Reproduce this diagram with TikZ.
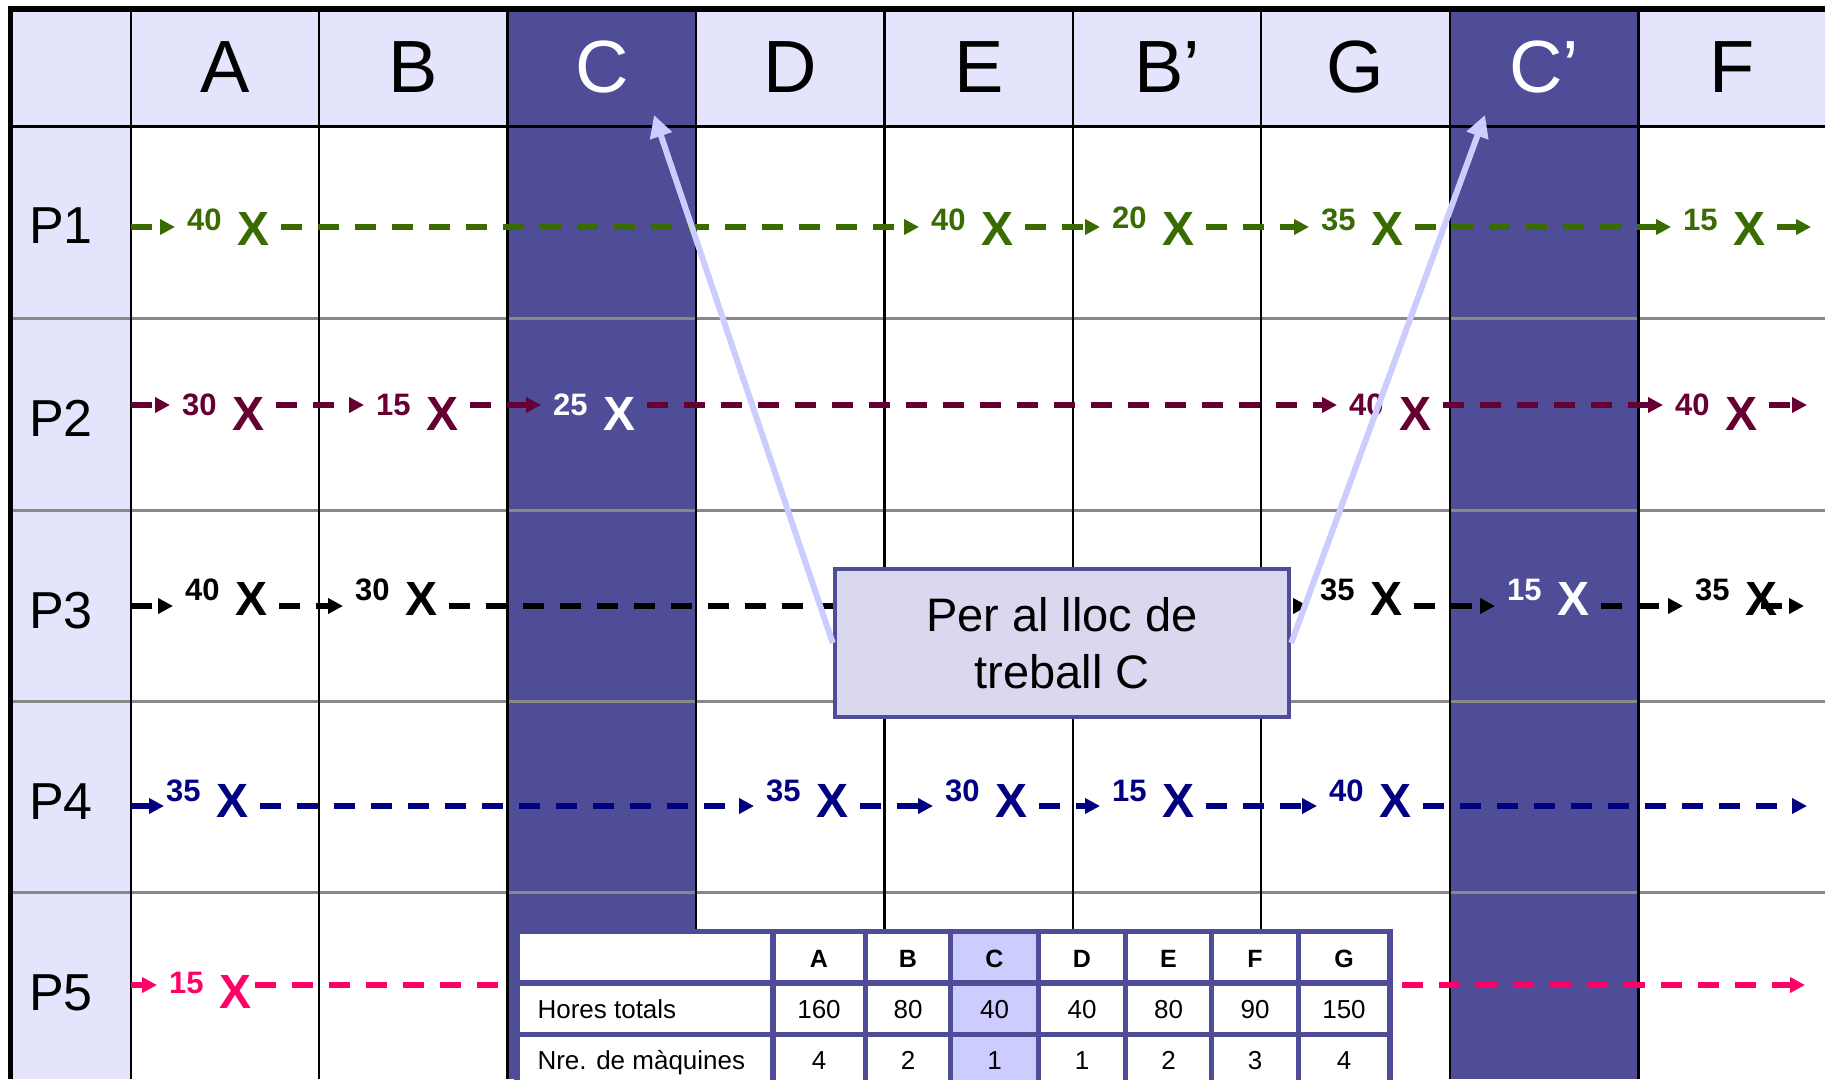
\documentclass[tikz,border=0pt]{standalone}
\usepackage{fontspec}
\setmainfont{Liberation Sans}
\usetikzlibrary{positioning, calc, arrows.meta}

\definecolor{headlav}{RGB}{228,228,252}
\definecolor{colpurple}{RGB}{80,77,152}
\definecolor{notefill}{RGB}{218,216,238}
\definecolor{calllav}{RGB}{204,204,255}
\definecolor{rowgray}{RGB}{136,136,136}
\definecolor{pgreen}{RGB}{58,107,0}
\definecolor{pmaroon}{RGB}{102,0,51}
\definecolor{pnavy}{RGB}{0,0,128}
\definecolor{ppink}{RGB}{255,0,102}

\begin{document}
\begin{tikzpicture}[x=1pt, y=-1pt,
    qty/.style={inner sep=0pt, anchor=base west, font=\fontsize{31}{31}\selectfont\bfseries},
    bigx/.style={inner sep=0pt, font=\fontsize{48}{48}\selectfont\bfseries},
    flow/.style={line width=5.5pt, dash pattern=on 21pt off 16pt, shorten <=12pt, shorten >=12pt, -{Triangle[length=15pt, width=15pt]}},
    rowline/.style={rowgray, line width=3pt},
    colline/.style={black, line width=2.5pt},
    colhead/.style={anchor=base, font=\fontsize{74}{74}\selectfont},
    rowhead/.style={anchor=base, font=\fontsize{52}{52}\selectfont},
    notebox/.style={draw=colpurple, line width=4.5pt, fill=notefill, minimum width=454pt, minimum height=148pt, align=center, font=\fontsize{47}{57}\selectfont},
    callarrow/.style={calllav, line width=6pt, -{Triangle[length=22pt, width=22pt]}},
    tabline/.style={colpurple, line width=5.5pt},
    tabhead/.style={anchor=base, font=\fontsize{25}{25}\selectfont\bfseries},
    tabtxt/.style={anchor=base, font=\fontsize{26}{26}\selectfont},
]
\useasboundingbox (0,0) rectangle (1825,1079);
\fill[white] (0,0) rectangle (1825,1079);

% background of the grid
\fill[headlav] (10.5,9) rectangle (1825,126.5);
\fill[headlav] (10.5,126.5) rectangle (131,1079);
\fill[colpurple] (507.5,9) rectangle (696,1079);
\fill[colpurple] (1450,9) rectangle (1638.5,1079);

\draw[rowline] (10.5,318) -- (1825,318);
\draw[rowline] (10.5,510) -- (1825,510);
\draw[rowline] (10.5,701) -- (1825,701);
\draw[rowline] (10.5,892) -- (1825,892);

\draw[colline] (131,9) -- (131,1079);
\draw[colline] (319,9) -- (319,1079);
\draw[colline] (507.5,9) -- (507.5,1079);
\draw[colline] (696,9) -- (696,1079);
\draw[colline] (884.5,9) -- (884.5,1079);
\draw[colline] (1073,9) -- (1073,1079);
\draw[colline] (1261,9) -- (1261,1079);
\draw[colline] (1450,9) -- (1450,1079);
\draw[colline] (1638.5,9) -- (1638.5,1079);

\draw[line width=3pt] (10.5,126.5) -- (1825,126.5);
\draw[line width=5.5pt] (10.5,1079) -- (10.5,9) -- (1825,9);

% column and row heads
\node[colhead] (cA) at (225,92) {A};
\node[colhead] (cB) at (413,92) {B};
\node[colhead, text=white] (cC) at (602,92) {C};
\node[colhead] (cD) at (790,92) {D};
\node[colhead] (cE) at (979,92) {E};
\node[colhead] (cBp) at (1167,92) {B’};
\node[colhead] (cG) at (1355.5,92) {G};
\node[colhead, text=white] (cCp) at (1544,92) {C’};
\node[colhead] (cF) at (1732,92) {F};

\node[rowhead] (lp1) at (61,243) {P1};
\node[rowhead] (lp2) at (61,436) {P2};
\node[rowhead] (lp3) at (61,628) {P3};
\node[rowhead] (lp4) at (61,819) {P4};
\node[rowhead] (lp5) at (61,1010) {P5};

% P1
\coordinate (p1s) at (131,227);
\coordinate (p1e) at (1811,227);
\node[qty, text=pgreen] (p1n1) at (187,230) {40};
\node[bigx, text=pgreen, base right=15pt of p1n1, yshift=-15pt] (p1x1) {X};
\node[qty, text=pgreen] (p1n2) at (931,230) {40};
\node[bigx, text=pgreen, base right=15pt of p1n2, yshift=-15pt] (p1x2) {X};
\node[qty, text=pgreen] (p1n3) at (1112,228) {20};
\node[bigx, text=pgreen, base right=15pt of p1n3, yshift=-17pt] (p1x3) {X};
\node[qty, text=pgreen] (p1n4) at (1321,230) {35};
\node[bigx, text=pgreen, base right=15pt of p1n4, yshift=-15pt] (p1x4) {X};
\node[qty, text=pgreen] (p1n5) at (1683,230) {15};
\node[bigx, text=pgreen, base right=15pt of p1n5, yshift=-15pt] (p1x5) {X};
\draw[flow, pgreen, shorten <=0pt] (p1s) -- (p1n1.west |- p1s);
\draw[flow, pgreen] (p1x1.east |- p1s) -- (p1n2.west |- p1s);
\draw[flow, pgreen] (p1x2.east |- p1s) -- (p1n3.west |- p1s);
\draw[flow, pgreen] (p1x3.east |- p1s) -- (p1n4.west |- p1s);
\draw[flow, pgreen] (p1x4.east |- p1s) -- (p1n5.west |- p1s);
\draw[flow, pgreen, shorten >=0pt] (p1x5.east |- p1s) -- (p1e);

% P2
\coordinate (p2s) at (131,405);
\coordinate (p2e) at (1807,405);
\node[qty, text=pmaroon] (p2n1) at (182,415) {30};
\node[bigx, text=pmaroon, base right=15pt of p2n1, yshift=-15pt] (p2x1) {X};
\node[qty, text=pmaroon] (p2n2) at (376,415) {15};
\node[bigx, text=pmaroon, base right=15pt of p2n2, yshift=-15pt] (p2x2) {X};
\node[qty, text=white] (p2n3) at (553,415) {25};
\node[bigx, text=white, base right=15pt of p2n3, yshift=-15pt] (p2x3) {X};
\node[qty, text=pmaroon] (p2n4) at (1349,415) {40};
\node[bigx, text=pmaroon, base right=15pt of p2n4, yshift=-15pt] (p2x4) {X};
\node[qty, text=pmaroon] (p2n5) at (1675,415) {40};
\node[bigx, text=pmaroon, base right=15pt of p2n5, yshift=-15pt] (p2x5) {X};
\draw[flow, pmaroon, shorten <=0pt] (p2s) -- (p2n1.west |- p2s);
\draw[flow, pmaroon] (p2x1.east |- p2s) -- (p2n2.west |- p2s);
\draw[flow, pmaroon] (p2x2.east |- p2s) -- (p2n3.west |- p2s);
\draw[flow, pmaroon] (p2x3.east |- p2s) -- (p2n4.west |- p2s);
\draw[flow, pmaroon] (p2x4.east |- p2s) -- (p2n5.west |- p2s);
\draw[flow, pmaroon, shorten >=0pt] (p2x5.east |- p2s) -- (p2e);

% P3
\coordinate (p3s) at (131,606);
\coordinate (p3e) at (1804,606);
\node[qty] (p3n1) at (185,600) {40};
\node[bigx, base right=15pt of p3n1, yshift=-15pt] (p3x1) {X};
\node[qty] (p3n2) at (355,600) {30};
\node[bigx, base right=15pt of p3n2, yshift=-15pt] (p3x2) {X};
\node[qty] (p3n3) at (1320,600) {35};
\node[bigx, base right=15pt of p3n3, yshift=-15pt] (p3x3) {X};
\node[qty, text=white] (p3n4) at (1507,600) {15};
\node[bigx, text=white, base right=15pt of p3n4, yshift=-15pt] (p3x4) {X};
\node[qty] (p3n5) at (1695,600) {35};
\node[bigx, base right=15pt of p3n5, yshift=-15pt] (p3x5) {X};
\draw[flow, shorten <=0pt] (p3s) -- (p3n1.west |- p3s);
\draw[flow] (p3x1.east |- p3s) -- (p3n2.west |- p3s);
\draw[flow] (p3x2.east |- p3s) -- (p3n3.west |- p3s);
\draw[flow] (p3x3.east |- p3s) -- (p3n4.west |- p3s);
\draw[flow] (p3x4.east |- p3s) -- (p3n5.west |- p3s);
\draw[flow, shorten <=0pt, shorten >=0pt] (p3x5.center |- p3s) -- (p3e);

% P4
\coordinate (p4s) at (131,806);
\coordinate (p4e) at (1807,806);
\node[qty, text=pnavy] (p4n1) at (166,801) {35};
\node[bigx, text=pnavy, base right=15pt of p4n1, yshift=-16pt] (p4x1) {X};
\node[qty, text=pnavy] (p4n2) at (766,801) {35};
\node[bigx, text=pnavy, base right=15pt of p4n2, yshift=-16pt] (p4x2) {X};
\node[qty, text=pnavy] (p4n3) at (945,801) {30};
\node[bigx, text=pnavy, base right=15pt of p4n3, yshift=-16pt] (p4x3) {X};
\node[qty, text=pnavy] (p4n4) at (1112,801) {15};
\node[bigx, text=pnavy, base right=15pt of p4n4, yshift=-16pt] (p4x4) {X};
\node[qty, text=pnavy] (p4n5) at (1329,801) {40};
\node[bigx, text=pnavy, base right=15pt of p4n5, yshift=-16pt] (p4x5) {X};
\draw[flow, pnavy, shorten <=0pt, shorten >=2pt] (p4s) -- (p4n1.west |- p4s);
\draw[flow, pnavy] (p4x1.east |- p4s) -- (p4n2.west |- p4s);
\draw[flow, pnavy] (p4x2.east |- p4s) -- (p4n3.west |- p4s);
\draw[flow, pnavy] (p4x3.east |- p4s) -- (p4n4.west |- p4s);
\draw[flow, pnavy] (p4x4.east |- p4s) -- (p4n5.west |- p4s);
\draw[flow, pnavy, shorten >=0pt] (p4x5.east |- p4s) -- (p4e);

% P5
\coordinate (p5s) at (131,985);
\coordinate (p5e) at (1805,985);
\node[qty, text=ppink] (p5n1) at (169,993) {15};
\node[bigx, text=ppink, base right=15pt of p5n1, yshift=-15pt] (p5x1) {X};
\draw[flow, ppink, shorten <=0pt] (p5s) -- (p5n1.west |- p5s);
\draw[flow, ppink, shorten <=4pt, shorten >=0pt] (p5x1.east |- p5s) -- (p5e);

% note and its arrows
\coordinate (ctip) at (654,115);
\coordinate (cptip) at (1485,115);
\node[notebox] (note) at (1062,643) {Per al lloc de\\treball C};
\draw[callarrow] (note.west) -- (ctip);
\draw[callarrow] (note.east) -- (cptip);

% table of hours
\fill[white] (517,931.5) rectangle (1390,1090);
\fill[calllav] (950.5,931.5) rectangle (1038.5,1090);
\draw[tabline] (517,1090) -- (517,931.5) -- (1390,931.5) -- (1390,1090);
\draw[tabline] (773,931.5) -- (773,1090);
\draw[tabline] (865.5,931.5) -- (865.5,1090);
\draw[tabline] (950.5,931.5) -- (950.5,1090);
\draw[tabline] (1038.5,931.5) -- (1038.5,1090);
\draw[tabline] (1125.5,931.5) -- (1125.5,1090);
\draw[tabline] (1211.5,931.5) -- (1211.5,1090);
\draw[tabline] (1298.5,931.5) -- (1298.5,1090);
\draw[tabline] (517,983) -- (1390,983);
\draw[tabline] (517,1034.5) -- (1390,1034.5);

\node[tabhead] (tA) at (819,967) {A};
\node[tabhead] (tB) at (908,967) {B};
\node[tabhead] (tC) at (994.5,967) {C};
\node[tabhead] (tD) at (1082,967) {D};
\node[tabhead] (tE) at (1168.5,967) {E};
\node[tabhead] (tF) at (1255,967) {F};
\node[tabhead] (tG) at (1344,967) {G};

\node[tabtxt, anchor=base west] (hrs) at (534,1018) {Hores totals};
\node[tabtxt] (hA) at (819,1018) {160};
\node[tabtxt] (hB) at (908,1018) {80};
\node[tabtxt] (hC) at (994.5,1018) {40};
\node[tabtxt] (hD) at (1082,1018) {40};
\node[tabtxt] (hE) at (1168.5,1018) {80};
\node[tabtxt] (hF) at (1255,1018) {90};
\node[tabtxt] (hG) at (1344,1018) {150};

\node[tabtxt, anchor=base west] (mach) at (534,1069) {Nre. de màquines};
\node[tabtxt] (mA) at (819,1069) {4};
\node[tabtxt] (mB) at (908,1069) {2};
\node[tabtxt] (mC) at (994.5,1069) {1};
\node[tabtxt] (mD) at (1082,1069) {1};
\node[tabtxt] (mE) at (1168.5,1069) {2};
\node[tabtxt] (mF) at (1255,1069) {3};
\node[tabtxt] (mG) at (1344,1069) {4};

\end{tikzpicture}
\end{document}
